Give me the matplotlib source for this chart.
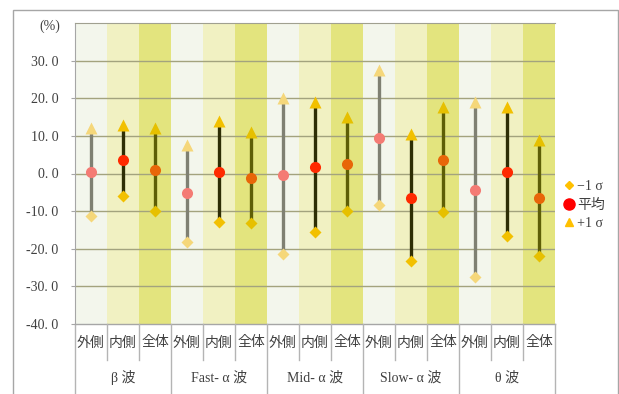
import matplotlib
matplotlib.use("Agg")
import matplotlib.pyplot as plt
import matplotlib.transforms as mtransforms
from matplotlib.lines import Line2D
from matplotlib.patches import Rectangle
import numpy as np

plt.rcParams['font.family'] = ['Liberation Serif', 'Noto Sans CJK JP', 'DejaVu Sans']

# Data
groups = ["β 波", "Fast- α 波", "Mid- α 波", "Slow- α 波", "θ 波"]
subs = ["外側", "内側", "全体"]
mean = [0.5, 3.5, 0.8,
        -5.2, 0.4, -1.1,
        -0.5, 1.7, 2.6,
        9.5, -6.5, 3.7,
        -4.4, 0.4, -6.5]
plus1 = [12.2, 13.0, 12.0,
         7.7, 14.0, 11.0,
         20.0, 19.0, 15.0,
         27.6, 10.4, 17.7,
         19.0, 17.7, 9.0]
minus1 = [-11.2, -6.0, -10.0,
          -18.3, -13.0, -13.2,
          -21.5, -15.5, -10.0,
          -8.5, -23.2, -10.2,
          -27.6, -16.6, -22.0]
yticks = [-40, -30, -20, -10, 0, 10, 20, 30]

# styles per sub-category
bg_col = ["#F3F6EC", "#F1F1C2", "#E3E47E"]
line_col = ["#7F8072", "#2E2E05", "#5E5E06"]
mean_col = ["#F47B74", "#FF2A00", "#E86608"]
tri_col = ["#F5D77A", "#F2C000", "#E6C000"]
dia_col = ["#F5D77A", "#F2C000", "#E6C000"]
txt_col = "#404040"

fig = plt.figure(figsize=(6.19, 3.94), dpi=100)
fig.patches.append(Rectangle((13 / 619, -0.01), 605 / 619, 1 - 9.5 / 394 + 0.01,
                             transform=fig.transFigure, fill=False,
                             edgecolor="#A6A6A6", lw=1.0, zorder=0))
ax = fig.add_axes([75 / 619, 70 / 394, 480 / 619, 301 / 394])

n = len(mean)
x = np.arange(n)
for i in x:
    k = i % 3
    ax.axvspan(i - 0.5, i + 0.5, color=bg_col[k], lw=0, zorder=0)
    ax.plot([i, i], [minus1[i], plus1[i]], color=line_col[k], lw=2.4,
            solid_capstyle="butt", zorder=2)
    ax.plot(i, minus1[i], marker="D", ms=6.3, color=dia_col[k], mec="none", zorder=3)
    ax.plot(i, plus1[i], marker="^", ms=8, color=tri_col[k], mec="none", zorder=3)
    ax.plot(i, mean[i], marker="o", ms=8, color=mean_col[k], mec="none", zorder=4)

ax.set_xlim(-0.5, n - 0.5)
ax.set_ylim(-40, 40)
ax.set_yticks(yticks)
ax.set_yticklabels([f"{v:.1f}".replace(".", ". ") for v in yticks],
                   fontsize=10, color=txt_col)
for v in yticks[1:]:
    ax.axhline(v, color="#A3A37E", lw=1.0, zorder=1)
ax.set_xticks([])
ax.tick_params(axis="y", length=3, color="#A6A6A6", pad=9)
for s in ["right", "bottom"]:
    ax.spines[s].set_visible(False)
ax.spines["top"].set_color("#A0A090")
ax.spines["left"].set_color("#A6A6A6")
ax.text(-0.03, 0.99, "(%)", transform=ax.transAxes, ha="right", va="center",
        fontsize=10, color=txt_col)

# two-level category axis
trans = mtransforms.blended_transform_factory(ax.transData, ax.transAxes)
ax.plot([-0.5, n - 0.5], [0, 0], transform=trans, color="#A6A6A6", lw=1, clip_on=False)
for b in range(n + 1):
    bottom = -0.24 if b % 3 == 0 else -0.12
    ax.plot([b - 0.5, b - 0.5], [0, bottom], transform=trans, color="#B4B4B4",
            lw=1, clip_on=False)
for i in x:
    ax.text(i, -0.063, subs[i % 3], transform=trans, ha="center", va="center",
            fontsize=10, color=txt_col)
for g, name in enumerate(groups):
    ax.text(3 * g + 1, -0.179, name, transform=trans, ha="center", va="center",
            fontsize=10, color=txt_col)

handles = [
    Line2D([0], [0], marker="D", ls="none", color="#FFC000", ms=4.5, label="−1 σ"),
    Line2D([0], [0], marker="o", ls="none", color="#FF0000", ms=8, label="平均"),
    Line2D([0], [0], marker="^", ls="none", color="#FFC000", ms=6, label="+1 σ"),
]
leg = fig.legend(handles=handles, loc="center left", bbox_to_anchor=(559 / 619, 1 - 205 / 394),
                 frameon=False, fontsize=10, handlelength=0.6, handletextpad=0.3,
                 labelspacing=0.4, borderaxespad=0)
for t in leg.get_texts():
    t.set_color(txt_col)

fig.savefig("out.png", dpi=100)
